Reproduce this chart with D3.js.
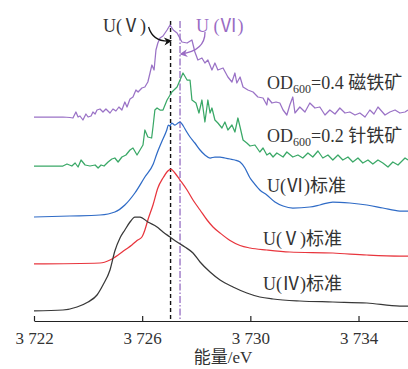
<!DOCTYPE html>
<html>
<head>
<meta charset="utf-8">
<script src="https://cdn.jsdelivr.net/npm/d3@7/dist/d3.min.js"></script>
<style>
  html, body { margin: 0; padding: 0; background: #fff; }
  svg { display: block; }
  text { font-family: "Liberation Serif", "Noto Sans CJK SC", serif; fill: #333; }
</style>
</head>
<body>
<svg id="chart" width="408" height="369"></svg>
<script>
// U L3-edge XANES spectra, stacked with vertical offsets (normalized absorbance)

// OD600 = 0.4 magnetite sample
const eMagnetite = [3722.00,3723.07,3723.33,3723.44,3723.55,3723.63,3723.70,3723.81,3723.92,3724.00,
  3724.11,3724.18,3724.26,3724.33,3724.44,3724.55,3724.66,3724.81,3724.92,3725.03,3725.14,3725.25,
  3725.36,3725.44,3725.55,3725.66,3725.77,3725.85,3725.99,3726.10,3726.21,3726.29,3726.36,3726.44,
  3726.51,3726.58,3726.66,3726.77,3726.92,3727.03,3727.15,3727.29,3727.47,3727.66,3727.84,3727.95,
  3728.06,3728.21,3728.32,3728.43,3728.58,3728.69,3728.80,3728.99,3729.17,3729.32,3729.43,3729.50,
  3729.62,3729.73,3729.91,3730.10,3730.28,3730.47,3730.61,3730.65,3730.80,3730.95,3731.09,3731.21,
  3731.35,3731.46,3731.57,3731.65,3731.83,3732.02,3732.20,3732.39,3732.57,3732.76,3732.94,3733.13,
  3733.31,3733.50,3733.68,3733.87,3734.05,3734.24,3734.42,3734.57,3734.72,3734.98,3735.16,3735.35,
  3735.53,3735.72,3735.83];
const muMagnetite = [2.04,2.04,2.035,2.03,2.09,2.04,2.05,2.01,2.07,2.04,
  2.05,2.09,2.07,2.11,2.12,2.09,2.12,2.08,2.12,2.10,2.14,2.11,
  2.19,2.14,2.22,2.24,2.31,2.29,2.33,2.34,2.39,2.48,2.56,2.51,
  2.71,2.78,2.83,2.85,2.91,2.96,2.91,2.88,2.79,2.78,2.81,2.69,
  2.61,2.63,2.58,2.61,2.51,2.58,2.51,2.53,2.44,2.39,2.48,2.38,
  2.44,2.34,2.31,2.29,2.24,2.23,2.16,2.23,2.18,2.19,2.18,2.11,
  2.06,2.16,2.24,2.08,2.14,2.09,2.18,2.13,2.14,2.06,2.11,2.07,
  2.13,2.08,2.09,2.06,2.08,2.04,2.11,2.07,2.14,2.06,2.09,2.11,
  2.08,2.09,2.11];

// OD600 = 0.2 goethite sample
const eGoethite = [3722.00,3723.07,3723.22,3723.40,3723.52,3723.63,3723.74,3723.89,3724.07,3724.26,
  3724.37,3724.48,3724.59,3724.74,3724.88,3724.99,3725.11,3725.25,3725.40,3725.55,3725.66,3725.81,
  3725.92,3726.03,3726.10,3726.21,3726.35,3726.40,3726.47,3726.55,3726.66,3726.77,3726.92,3727.10,
  3727.29,3727.51,3727.66,3727.77,3727.84,3727.99,3728.10,3728.21,3728.32,3728.43,3728.51,3728.58,
  3728.69,3728.80,3728.95,3729.06,3729.17,3729.32,3729.43,3729.54,3729.62,3729.73,3729.87,3729.99,
  3730.17,3730.35,3730.47,3730.61,3730.72,3730.84,3730.98,3731.21,3731.35,3731.57,3731.76,3731.94,
  3732.13,3732.31,3732.50,3732.68,3732.87,3733.05,3733.24,3733.42,3733.61,3733.79,3733.98,3734.16,
  3734.35,3734.53,3734.72,3734.90,3735.09,3735.27,3735.46,3735.72,3735.83];
const muGoethite = [1.55,1.55,1.57,1.55,1.58,1.54,1.61,1.56,1.55,1.56,
  1.53,1.56,1.55,1.59,1.62,1.63,1.59,1.64,1.66,1.71,1.73,1.66,
  1.71,1.76,1.91,1.84,1.83,1.94,2.11,2.13,2.11,2.11,2.21,2.29,
  2.34,2.48,2.41,2.41,2.21,2.18,2.08,2.21,1.99,2.21,2.08,2.13,
  2.01,1.98,1.93,1.99,1.91,1.96,1.89,2.03,1.94,1.81,1.78,1.75,
  1.76,1.69,1.73,1.66,1.68,1.64,1.68,1.64,1.69,1.64,1.66,1.63,
  1.68,1.64,1.70,1.63,1.66,1.61,1.66,1.61,1.64,1.59,1.63,1.58,
  1.61,1.57,1.61,1.58,1.54,1.59,1.56,1.63,1.61];

// U(VI) reference
const eU6 = [3722.00,3723.33,3724.44,3724.99,3725.36,3725.73,3726.10,3726.41,3726.54,3726.72,
  3726.91,3726.97,3727.03,3727.09,3727.21,3727.33,3727.40,3727.52,3727.65,3727.77,3727.95,3728.14,
  3728.32,3728.51,3728.69,3728.88,3729.06,3729.25,3729.43,3729.62,3729.80,3729.99,3730.10,3730.35,
  3730.61,3730.91,3731.21,3731.57,3732.20,3732.57,3733.05,3733.68,3734.31,3734.90,3735.53,3735.83];
const muU6 = [1.04,1.05,1.06,1.09,1.16,1.28,1.44,1.57,1.67,1.79,
  1.91,1.96,1.95,1.98,1.96,1.98,1.99,1.95,1.89,1.84,1.78,1.71,
  1.66,1.63,1.64,1.64,1.63,1.62,1.61,1.59,1.53,1.43,1.39,1.31,
  1.26,1.19,1.15,1.13,1.14,1.16,1.19,1.18,1.16,1.13,1.10,1.10];

// U(V) reference
const eU5 = [3722.00,3724.44,3724.81,3725.11,3725.36,3725.62,3725.81,3725.99,3726.10,3726.21,
  3726.40,3726.58,3726.77,3726.95,3727.06,3727.21,3727.40,3727.66,3727.88,3728.14,3728.40,3728.62,
  3728.88,3729.25,3729.62,3729.99,3730.61,3731.46,3733.05,3734.31,3735.53,3735.83];
const muU5 = [0.57,0.58,0.61,0.66,0.71,0.76,0.805,0.84,0.91,1.01,
  1.16,1.33,1.43,1.50,1.52,1.48,1.41,1.31,1.21,1.11,1.01,0.94,
  0.88,0.805,0.755,0.73,0.71,0.69,0.68,0.66,0.65,0.65];

// U(IV) reference
const eU4 = [3722.00,3723.07,3723.59,3724.00,3724.33,3724.55,3724.81,3724.99,3725.18,3725.36,
  3725.55,3725.73,3725.92,3726.21,3726.55,3726.77,3727.03,3727.29,3727.58,3727.88,3728.14,3728.51,
  3728.88,3729.36,3729.87,3730.35,3730.84,3731.83,3733.05,3734.31,3735.53,3735.83];
const muU4 = [0.10,0.11,0.14,0.19,0.26,0.36,0.51,0.70,0.83,0.91,
  0.99,1.04,1.04,0.99,0.94,0.89,0.84,0.79,0.74,0.68,0.59,0.49,
  0.41,0.34,0.28,0.24,0.22,0.20,0.19,0.18,0.15,0.15];

const seriesNames = ["OD600=0.4 磁铁矿", "OD600=0.2 针铁矿", "U(Ⅵ)标准", "U(Ⅴ)标准", "U(Ⅳ)标准"];
const seriesColors = ["#9a72c6", "#3aa867", "#2f6bc6", "#e8353d", "#383838"];

// white-line positions of U(V) and U(VI)
const edgeEnergies = [3727.05, 3727.40];
const tickValues = [3722, 3726, 3730, 3734];

const svg = d3.select("#chart");

const x = d3.scaleLinear().domain([3722, 3735.83]).range([34, 408]);
const y = d3.scaleLinear().domain([0, 3.2]).range([321, 1]);

const zip = (es, vs) => es.map((e, i) => ({e, v: vs[i]}));
const curves = [
  {data: zip(eMagnetite, muMagnetite), curve: d3.curveLinear},
  {data: zip(eGoethite, muGoethite), curve: d3.curveLinear},
  {data: zip(eU6, muU6), curve: d3.curveMonotoneX},
  {data: zip(eU5, muU5), curve: d3.curveMonotoneX},
  {data: zip(eU4, muU4), curve: d3.curveMonotoneX}
];

// marker arrowheads
const defs = svg.append("defs");
function arrowHead(id, color) {
  defs.append("marker")
    .attr("id", id)
    .attr("viewBox", "0 0 10 10")
    .attr("refX", 8).attr("refY", 5)
    .attr("markerWidth", 9).attr("markerHeight", 8)
    .attr("markerUnits", "userSpaceOnUse")
    .attr("orient", "auto")
    .append("path")
    .attr("d", "M0,0 L10,5 L0,10 L3,5 Z")
    .attr("fill", color);
}
arrowHead("ahBlack", "#111");
arrowHead("ahPurple", "#9a6cc4");

// vertical reference lines
svg.append("line")
  .attr("x1", x(edgeEnergies[0])).attr("x2", x(edgeEnergies[0]))
  .attr("y1", y(3.0)).attr("y2", y(0))
  .attr("stroke", "#111").attr("stroke-width", 1.4)
  .attr("stroke-dasharray", "4,3");
svg.append("line")
  .attr("x1", x(edgeEnergies[1])).attr("x2", x(edgeEnergies[1]))
  .attr("y1", y(3.0)).attr("y2", y(0))
  .attr("stroke", "#9c76c6").attr("stroke-width", 1.4)
  .attr("stroke-dasharray", "7,2,1.5,2");

// spectra
curves.forEach((c, i) => {
  const line = d3.line().x(d => x(d.e)).y(d => y(d.v)).curve(c.curve);
  svg.append("path")
    .datum(c.data)
    .attr("d", line)
    .attr("fill", "none")
    .attr("stroke", seriesColors[i])
    .attr("stroke-width", 1.25)
    .attr("stroke-linejoin", "round");
});

// x axis with inward ticks
const axis = d3.axisBottom(x)
  .tickValues(tickValues)
  .tickSizeInner(-5)
  .tickSizeOuter(0)
  .tickPadding(11)
  .tickFormat(d => d3.format("d")(d).replace(/^(\d)(\d{3})$/, "$1 $2"));
const gx = svg.append("g").attr("transform", `translate(0,${y(0)})`).call(axis);
gx.select(".domain").attr("stroke", "#222").attr("stroke-width", 1.2);
gx.selectAll(".tick line").attr("stroke", "#222").attr("stroke-width", 1.2);
gx.selectAll(".tick text")
  .attr("fill", "#333")
  .style("font-family", "'Liberation Serif', serif")
  .style("font-size", "17px");

svg.append("text")
  .attr("x", (34 + 408) / 2 + 2).attr("y", 363)
  .attr("text-anchor", "middle")
  .style("font-size", "17px")
  .text("能量/eV");

// series labels
const labelPos = [[267, 89], [267, 142], [267, 192], [263, 245], [263, 290]];
seriesNames.forEach((name, i) => {
  const t = svg.append("text")
    .attr("x", labelPos[i][0]).attr("y", labelPos[i][1])
    .style("font-size", "18px");
  const m = name.match(/^OD600(.*)$/);
  if (m) {
    t.append("tspan").text("OD");
    t.append("tspan").attr("dy", 4).style("font-size", "12px").text("600");
    t.append("tspan").attr("dy", -4).text(m[1]);
  } else {
    t.text(name);
  }
});

// annotations for the two edge positions
svg.append("text")
  .attr("x", 103).attr("y", 32)
  .style("font-size", "18px")
  .text("U(Ⅴ)");
svg.append("text")
  .attr("x", 196).attr("y", 32)
  .style("fill", "#9a6cc4")
  .style("font-size", "18px")
  .text("U (Ⅵ)");

const tipV = [x(edgeEnergies[0]), y(2.8)];
svg.append("path")
  .attr("d", `M${tipV[0] - 22},${tipV[1] - 14} C${tipV[0] - 19},${tipV[1] - 4} ${tipV[0] - 12},${tipV[1] + 1} ${tipV[0]},${tipV[1]}`)
  .attr("fill", "none").attr("stroke", "#111").attr("stroke-width", 1.3)
  .attr("marker-end", "url(#ahBlack)");

const tipVI = [x(edgeEnergies[1]) + 1, y(2.67)];
svg.append("path")
  .attr("d", `M${tipVI[0] + 24},${tipVI[1] - 22} C${tipVI[0] + 24},${tipVI[1] - 9} ${tipVI[0] + 15},${tipVI[1] - 2} ${tipVI[0]},${tipVI[1]}`)
  .attr("fill", "none").attr("stroke", "#9a6cc4").attr("stroke-width", 1.3)
  .attr("marker-end", "url(#ahPurple)");
</script>
</body>
</html>
